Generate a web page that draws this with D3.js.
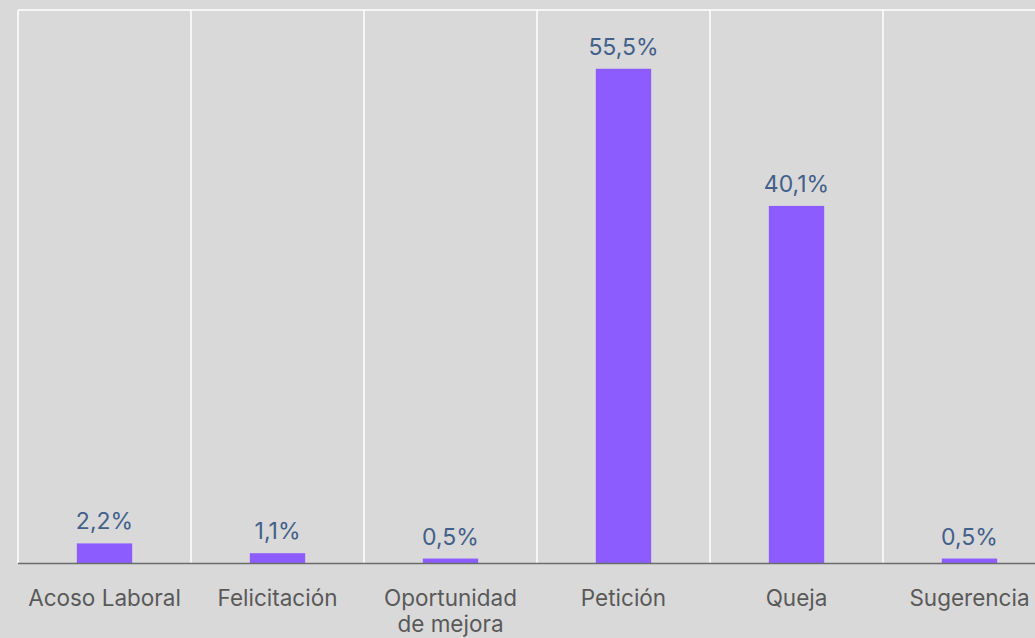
<!DOCTYPE html>
<html>
<head>
<meta charset="utf-8">
<script src="https://cdn.jsdelivr.net/npm/d3@7"></script>
<style>
  html, body { margin: 0; padding: 0; background: #d9d9d9; overflow: hidden; }
  svg { display: block; }
</style>
</head>
<body>
<div id="chart-container"></div>
<script>
// Chart data
var categories = ['Acoso Laboral', 'Felicitación', 'Oportunidad de mejora', 'Petición', 'Queja', 'Sugerencia'];
var categoryLines = [['Acoso Laboral'], ['Felicitación'], ['Oportunidad', 'de mejora'], ['Petición'], ['Queja'], ['Sugerencia']];
var values = [2.2, 1.1, 0.5, 55.5, 40.1, 0.5];
var valueLabels = ['2,2%', '1,1%', '0,5%', '55,5%', '40,1%', '0,5%'];

var width = 1035, height = 638;
var margin = { top: 10, left: 18, bottom: 75 };
var bandWidth = 173;
var plotRight = margin.left + bandWidth * categories.length;
var baseY = height - margin.bottom;

var svg = d3.select('#chart-container').append('svg')
  .attr('width', width)
  .attr('height', height);

svg.append('rect').attr('width', width).attr('height', height).attr('fill', '#d9d9d9');

var x = d3.scaleBand()
  .domain(categories)
  .range([margin.left, plotRight])
  .paddingInner(0.68)
  .paddingOuter(0.34);

var y = d3.scaleLinear()
  .domain([0, 62.1])
  .range([baseY, margin.top]);

// Gridlines: top border and vertical separators
svg.append('line')
  .attr('x1', margin.left).attr('x2', plotRight)
  .attr('y1', y(62.1)).attr('y2', y(62.1))
  .attr('stroke', '#ffffff').attr('stroke-width', 1.5);

d3.range(categories.length + 1).forEach(function (i) {
  var gx = margin.left + i * bandWidth;
  svg.append('line')
    .attr('x1', gx).attr('x2', gx)
    .attr('y1', y(62.1)).attr('y2', baseY)
    .attr('stroke', '#ffffff').attr('stroke-width', 1.5);
});

// Bars
svg.selectAll('.bar')
  .data(values)
  .enter().append('rect')
  .attr('class', 'bar')
  .attr('x', function (d, i) { return x(categories[i]); })
  .attr('width', x.bandwidth())
  .attr('y', function (d) { return y(d); })
  .attr('height', function (d) { return baseY - y(d); })
  .attr('fill', '#8c5cff');

// Baseline
svg.append('line')
  .attr('x1', margin.left).attr('x2', width)
  .attr('y1', baseY + 0.5).attr('y2', baseY + 0.5)
  .attr('stroke', '#6b6b6b').attr('stroke-width', 1.3);

// Value labels
svg.selectAll('.val')
  .data(values)
  .enter().append('text')
  .attr('class', 'val')
  .attr('x', function (d, i) { return x(categories[i]) + x.bandwidth() / 2; })
  .attr('y', function (d) { return y(d) - 14; })
  .attr('text-anchor', 'middle')
  .attr('font-family', 'Inter, "Noto Sans", sans-serif')
  .attr('font-size', 23)
  .attr('fill', '#42608a')
  .text(function (d, i) { return valueLabels[i]; });

// Category labels
categoryLines.forEach(function (lines, i) {
  var t = svg.append('text')
    .attr('x', x(categories[i]) + x.bandwidth() / 2)
    .attr('y', baseY + 43)
    .attr('text-anchor', 'middle')
    .attr('font-family', 'Inter, "Noto Sans", sans-serif')
    .attr('font-size', 22.5)
    .attr('fill', '#595959');
  lines.forEach(function (line, j) {
    t.append('tspan')
      .attr('x', x(categories[i]) + x.bandwidth() / 2)
      .attr('dy', j === 0 ? 0 : 26)
      .text(line);
  });
});
</script>
</body>
</html>
